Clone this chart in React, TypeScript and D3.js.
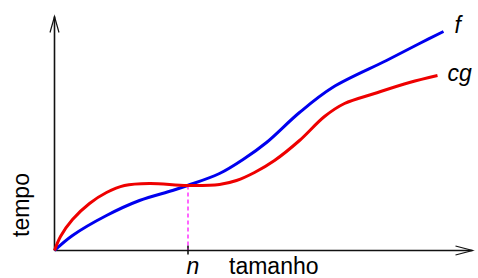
import * as d3 from "d3";

// values (abstract units: x = size, y = time)
const fValues: [number, number][] = [
  [0, 0], [18, 15], [52, 35], [85, 50], [118, 60], [133, 65], [165, 77],
  [190, 92], [212, 108], [245, 138], [278, 163], [332, 190],
  [365, 207], [389, 219],
];
const cgValues: [number, number][] = [
  [0, 0], [6, 14], [18, 31], [35, 47], [52, 58], [70, 65], [95, 67],
  [133, 65], [165, 66], [182, 70], [200, 78], [220, 90],
  [245, 110], [270, 134], [290, 147], [320, 157],
  [355, 168], [383, 175],
];
const nValue = 133;
const seriesLabels = ["f", "cg"];
const axisLabels = ["tamanho", "tempo"];

const W = 478;
const H = 278;
const font = "'Liberation Sans', Arial, Helvetica, sans-serif";

export default function App() {
  const x = d3.scaleLinear().domain([0, 418]).range([54.5, 472.5]);
  const y = d3.scaleLinear().domain([0, 234]).range([250.5, 16.5]);

  const line = d3
    .line<[number, number]>()
    .x((d) => x(d[0]))
    .y((d) => y(d[1]))
    .curve(d3.curveCatmullRom.alpha(0.5));

  const x0 = x(0);
  const y0 = y(0);
  const xEnd = x.range()[1];
  const yEnd = y.range()[1];
  const nY = cgValues.find((d) => d[0] === nValue)![1];
  const fLast = fValues[fValues.length - 1];
  const cgLast = cgValues[cgValues.length - 1];

  return (
    <svg
      width={W}
      height={H}
      style={{ position: "absolute", left: 0, top: 0, background: "#fff" }}
      fontFamily={font}
      fontSize={23}
    >
      {/* axes */}
      <g stroke="#111" strokeWidth={1.6} fill="none">
        <line x1={x0} y1={y0} x2={xEnd} y2={y0} />
        <line x1={x0} y1={y0} x2={x0} y2={yEnd} />
        <path d={`M${xEnd - 17},${y0 - 4.5} L${xEnd},${y0} L${xEnd - 17},${y0 + 4.5}`} strokeWidth={1.2} />
        <path d={`M${x0 - 4.5},${yEnd + 16} L${x0},${yEnd} L${x0 + 4.5},${yEnd + 16}`} strokeWidth={1.2} />
        <line x1={x(nValue) + 0.5} y1={y0 - 5} x2={x(nValue) + 0.5} y2={y0 + 4} />
      </g>

      {/* dashed marker at n */}
      <line
        x1={x(nValue) + 0.5}
        y1={y(nY)}
        x2={x(nValue) + 0.5}
        y2={y0 - 1}
        stroke="#ff00ff"
        strokeWidth={1.2}
        strokeDasharray="4,3"
      />

      <path d={line(fValues)!} fill="none" stroke="#0000ee" strokeWidth={3} />
      <path d={line(cgValues)!} fill="none" stroke="#ee0000" strokeWidth={3} />

      {/* labels */}
      <text x={x(fLast[0]) + 11} y={y(fLast[1]) + 1} fontStyle="italic">
        {seriesLabels[0]}
      </text>
      <text x={x(cgLast[0]) + 10} y={y(cgLast[1]) + 5} fontStyle="italic">
        {seriesLabels[1]}
      </text>
      <text x={x(nValue) - 1} y={274} fontStyle="italic">
        n
      </text>
      <text x={229} y={274}>
        {axisLabels[0]}
      </text>
      <text transform="translate(29,205) rotate(-90)" textAnchor="middle">
        {axisLabels[1]}
      </text>
    </svg>
  );
}
